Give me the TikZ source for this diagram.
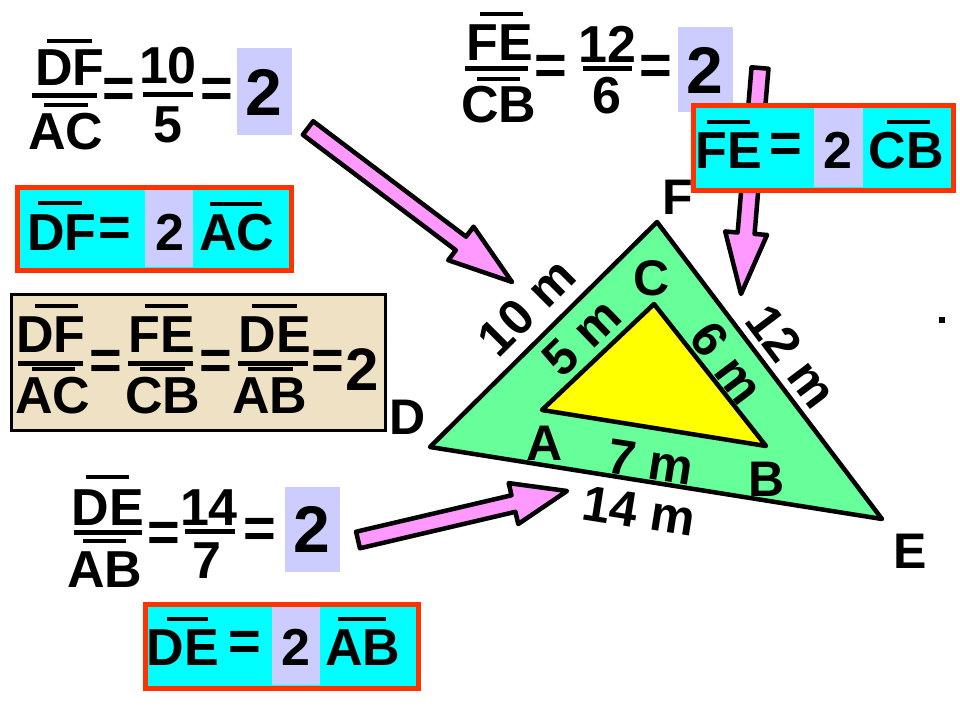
\documentclass[tikz,border=0pt]{standalone}
\usepackage{fontspec}
\newfontfamily\af{Liberation Sans}
\usetikzlibrary{calc}
\newcommand\myfs[1]{\fontsize{#1}{#1}\selectfont}
\definecolor{pinkA}{HTML}{FF99FF}
\definecolor{lav}{HTML}{CCCCFF}
\definecolor{cyanA}{HTML}{00FFFF}
\definecolor{redA}{HTML}{FF3300}
\definecolor{tanA}{HTML}{EEE1C4}
\definecolor{greenA}{HTML}{66FF99}
\definecolor{yelA}{HTML}{FFFF00}
\newcommand\fatarrow[5]{%
 \path ($(#2)!#5!(#1)$) coordinate (fab);
 \draw[fatarrowsty] ($(#1)!#3!90:(#2)$) -- ($(fab)!#3!-90:(#1)$) -- ($(fab)!#4!-90:(#1)$) -- (#2) -- ($(fab)!#4!90:(#1)$) -- ($(fab)!#3!90:(#1)$) -- ($(#1)!#3!-90:(#2)$) -- cycle;}
\begin{document}
\begin{tikzpicture}[x=1pt,y=-1pt,
 every node/.style={inner sep=0pt,outer sep=0pt},
 big/.style={font=\af\bfseries\myfs{52},anchor=base},
 eqs/.style={font=\af\bfseries\myfs{56},anchor=center},
 two/.style={font=\af\bfseries\myfs{66},anchor=base},
 lab/.style={font=\af\bfseries\myfs{50},anchor=center},
 ovl/.style={line width=4pt},
 fbar/.style={line width=5pt},
 lavbox/.style={fill=lav},
 redbox/.style={fill=cyanA,draw=redA,line width=5pt},
 fatarrowsty/.style={fill=pinkA,draw=black,line width=4.5pt,line join=round},
 tri/.style={draw=black,line width=4.5pt,line join=round}]
\useasboundingbox (0,0) rectangle (960,720);
\fill[white] (0,0) rectangle (960,720);

% ---------- top-left fraction ----------
\node[big] (n1) at (70,85) {DF};
\draw[ovl] (47,41) -- (92,41);
\draw[fbar] (32,95) -- (97,95);
\node[big] (d1) at (66,149) {AC};
\draw[ovl] (44,105) -- (88,105);
\node[eqs] (e1a) at (119,93) {=};
\node[big] (n1b) at (168,83) {10};
\draw[fbar] (143,94) -- (193,94);
\node[big] (d1b) at (168,142) {5};
\node[eqs] (e1b) at (217,93) {=};
\fill[lavbox] (237,48) rectangle (292,135);
\node[two] (r1) at (264,115) {2};

% ---------- box 1 ----------
\draw[redbox] (17,187) rectangle (291,270);
\fill[lavbox] (145,190) rectangle (193,267);
\node[big] (b1a) at (62,250) {DF};
\draw[ovl] (38,203) -- (82,203);
\node[eqs] (b1e) at (115,232) {=};
\node[big] (b1n) at (170,250) {2};
\node[big] (b1b) at (237,250) {AC};
\draw[ovl] (210,204) -- (262,204);

% ---------- top-middle fraction ----------
\node[big] (n2) at (500,60) {FE};
\draw[ovl] (480,14) -- (523,14);
\draw[fbar] (465,68) -- (528,68);
\node[big] (d2) at (499,122) {CB};
\draw[ovl] (477,79) -- (520,79);
\node[eqs] (e2a) at (551,70) {=};
\node[big] (n2b) at (607,62) {12};
\draw[fbar] (583,68) -- (632,68);
\node[big] (d2b) at (607,113) {6};
\node[eqs] (e2b) at (656,70) {=};
\fill[lavbox] (678,27) rectangle (733,112);
\node[two] (r2) at (705,93) {2};

% ---------- arrows ----------
\coordinate (a1t) at (308,128);
\coordinate (a1h) at (512,282);
\coordinate (a2t) at (760,68);
\coordinate (a2h) at (741,294);
\coordinate (a3t) at (358,540);
\coordinate (a3h) at (567,491);
\fatarrow{a1t}{a1h}{8.5pt}{21pt}{64pt}
\fatarrow{a2t}{a2h}{8.5pt}{21pt}{61pt}
\fatarrow{a3t}{a3h}{8.5pt}{21pt}{55pt}

% ---------- box 2 ----------
\draw[redbox] (693,105) rectangle (953,190);
\fill[lavbox] (814,108) rectangle (863,187);
\node[big] (b2a) at (729,168) {FE};
\draw[ovl] (707,122) -- (750,122);
\node[eqs] (b2e) at (786,148) {=};
\node[big] (b2n) at (838,168) {2};
\node[big] (b2b) at (906,168) {CB};
\draw[ovl] (887,122) -- (930,122);

% ---------- tan box ----------
\draw[fill=tanA,draw=black,line width=3.5pt] (11.5,294.5) rectangle (385.5,430.5);
\node[big] (t1n) at (51,352) {DF};
\draw[ovl] (35,306) -- (78,306);
\draw[fbar] (18,363) -- (83,363);
\node[big] (t1d) at (53,413) {AC};
\draw[ovl] (32,369) -- (75,369);
\node[eqs] (t1e) at (106,365) {=};
\node[big] (t2n) at (162,352) {FE};
\draw[ovl] (145,306) -- (188,306);
\draw[fbar] (128,363) -- (193,363);
\node[big] (t2d) at (163,413) {CB};
\draw[ovl] (140,369) -- (185,369);
\node[eqs] (t2e) at (216,365) {=};
\node[big] (t3n) at (275,352) {DE};
\draw[ovl] (252,306) -- (297,306);
\draw[fbar] (238,363) -- (308,363);
\node[big] (t3d) at (270,413) {AB};
\draw[ovl] (248,369) -- (293,369);
\node[eqs] (t3e) at (328,365) {=};
\node[font=\af\bfseries\myfs{60},anchor=base] (t4) at (362,390) {2};

% ---------- bottom fraction ----------
\node[big] (n3) at (108,525) {DE};
\draw[ovl] (86,477) -- (129,477);
\draw[fbar] (74,532) -- (142,532);
\node[big] (d3) at (105,587) {AB};
\draw[ovl] (83,541) -- (126,541);
\node[eqs] (e3a) at (164,537) {=};
\node[big] (n3b) at (209,525) {14};
\draw[fbar] (185,531) -- (235,531);
\node[big] (d3b) at (207,578) {7};
\node[eqs] (e3b) at (260,533) {=};
\fill[lavbox] (285,487) rectangle (340,572);
\node[two] (r3) at (312,552) {2};

% ---------- box 3 ----------
\draw[redbox] (145,604) rectangle (418,688);
\fill[lavbox] (272,607) rectangle (320,685);
\node[big] (b3a) at (183,665) {DE};
\draw[ovl] (167,619) -- (208,619);
\node[eqs] (b3e) at (245,646) {=};
\node[big] (b3n) at (296,665) {2};
\node[big] (b3b) at (363,665) {AB};
\draw[ovl] (338,619) -- (386,619);

% ---------- triangles ----------
\coordinate (D) at (430,447);
\coordinate (F) at (657,222);
\coordinate (E) at (882,519);
\coordinate (A) at (542,410);
\coordinate (C) at (654,304);
\coordinate (B) at (766,446);
\draw[tri,fill=greenA] (D) -- (F) -- (E) -- cycle;
\draw[tri,fill=yelA] (A) -- (C) -- (B) -- cycle;

\node[lab] (lF) at (678,197) {F};
\node[lab] (lC) at (652,278) {C};
\node[lab] (lD) at (408,417) {D};
\node[lab] (lA) at (545,443) {A};
\node[lab] (lB) at (767,479) {B};
\node[lab] (lE) at (910,551) {E};
\node[lab,rotate=45] (l10) at (527,307) {10 m};
\node[lab,rotate=44] (l5) at (582,337) {5 m};
\node[lab,rotate=-53] (l6) at (727,363) {6 m};
\node[lab,rotate=-53] (l12) at (792,356) {12 m};
\node[lab,rotate=-9] (l7) at (651,462) {7 m};
\node[lab,rotate=-9] (l14) at (639,511) {14 m};
\fill[black] (939,317) rectangle (945,323);
\end{tikzpicture}
\end{document}
